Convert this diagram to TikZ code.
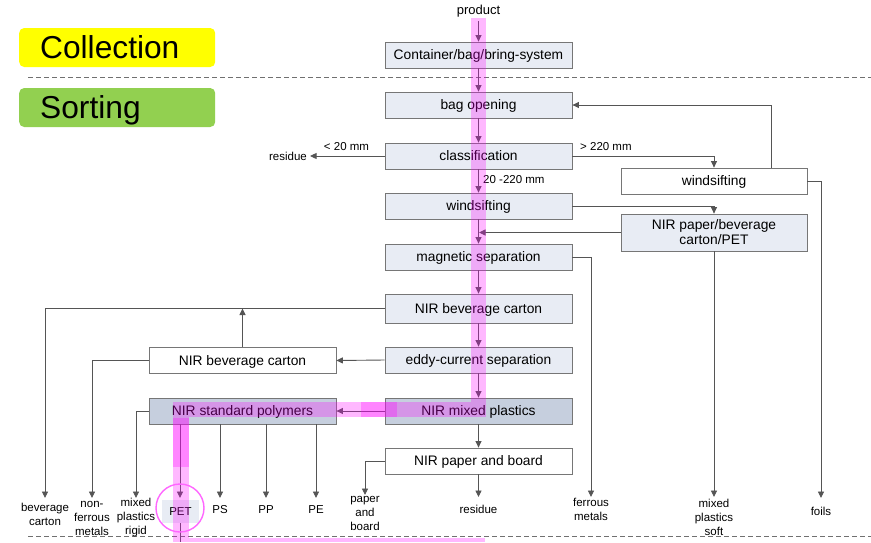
\documentclass[tikz,border=0pt]{standalone}
\usepackage{fontspec}
\setmainfont{Liberation Sans}
\usetikzlibrary{arrows.meta}
\definecolor{linec}{HTML}{555555}
\definecolor{boxline}{HTML}{767676}
\definecolor{boxfill}{HTML}{E8ECF4}
\definecolor{boxdark}{HTML}{C6CFDE}
\definecolor{collcol}{HTML}{FFFF00}
\definecolor{sortcol}{HTML}{92D050}
\definecolor{hl}{HTML}{FF00FF}
\definecolor{dashc}{HTML}{707070}
\begin{document}
\begin{tikzpicture}[x=1pt,y=-1pt,
  box/.style={draw=boxline, line width=0.8pt, fill=boxfill, minimum width=187pt, minimum height=26pt, inner sep=0pt, font=\fontsize{13.8}{15}\selectfont, align=center},
  wbox/.style={box, fill=white},
  dbox/.style={box, fill=boxdark},
  one/.style={text height=9.9pt, text depth=0pt},
  arr/.style={draw=linec, line width=0.9pt, -{Triangle[length=6.5pt,width=6pt]}},
  ln/.style={draw=linec, line width=0.9pt},
  lbl/.style={inner sep=0pt, font=\fontsize{11.5}{14}\selectfont, align=center},
  phase/.style={rounded corners=5pt, minimum width=196pt, minimum height=39pt, text width=154pt, inner xsep=21pt, inner ysep=0pt, align=left, font=\fontsize{31.7}{34}\selectfont, text height=22.7pt, text depth=0pt, anchor=west},
  sep/.style={draw=dashc, line width=0.7pt, dash pattern=on 5pt off 3pt},
  hlband/.style={fill=hl, opacity=0.28}
]
\useasboundingbox (0,0) rectangle (871,542);

% phase labels
\node[phase, fill=collcol] (coll) at (19,47.5) {Collection};
\node[phase, fill=sortcol] (sort) at (19,107.5) {Sorting};
\draw[sep] (28,77) -- (871,77);
\draw[sep] (28,536) -- (871,536);

% main column
\node[lbl, font=\fontsize{13}{15}\selectfont] (product) at (478.5,11) {product};
\node[box,one] (cont) at (478.5,55) {Container/bag/bring-system};
\node[box,one] (bag) at (478.5,105) {bag opening};
\node[box,one] (cls) at (478.5,156) {classification};
\node[box,one] (ws) at (478.5,206) {windsifting};
\node[box,one] (mag) at (478.5,257) {magnetic separation};
\node[box,one, minimum height=29pt] (nbc) at (478.5,308.5) {NIR beverage carton};
\node[box,one] (eddy) at (478.5,360) {eddy-current separation};
\node[dbox,one] (nmp) at (478.5,411) {NIR mixed plastics};
\node[wbox,one] (npb) at (478.5,461) {NIR paper and board};

% right column
\node[wbox,one, minimum width=186pt] (ws2) at (714,181) {windsifting};
\node[box, minimum width=186pt, minimum height=37pt] (npp) at (714,232.5) {NIR paper/beverage\\carton/PET};

% left column
\node[wbox,one] (nbc2) at (242.5,360.5) {NIR beverage carton};
\node[dbox,one] (nsp) at (242.5,411) {NIR standard polymers};

% small labels
\node[lbl] (res1) at (288,156) {residue};
\node[lbl] (lt20) at (346.5,147) {< 20 mm};
\node[lbl, anchor=west] (gt220) at (580,147) {> 220 mm};
\node[lbl, anchor=west] (mid) at (483,180) {20 -220 mm};

% outputs
\node[lbl] (bev) at (45,514) {beverage\\carton};
\node[lbl] (nonf) at (92,518) {non-\\ferrous\\metals};
\node[lbl] (rig) at (136,518) {mixed\\plastics\\rigid};
\node[lbl, fill=boxfill, minimum width=37pt, minimum height=23pt] (pet) at (180.5,511.5) {PET};
\node[lbl] (ps) at (220,510) {PS};
\node[lbl] (pp) at (266,510) {PP};
\node[lbl] (pe) at (316,510) {PE};
\node[lbl] (pab) at (365,513.5) {paper\\and\\board};
\node[lbl] (res2) at (478.5,509) {residue};
\node[lbl] (fer) at (591,509) {ferrous\\metals};
\node[lbl] (soft) at (714,517) {mixed\\plastics\\soft};
\node[lbl] (foils) at (821,511) {foils};

\coordinate (bevT) at (45,498);
\coordinate (nonT) at (92,498);
\coordinate (rigT) at (136,498);
\coordinate (petT) at (180,498);
\coordinate (psT) at (220,498);
\coordinate (ppT) at (266,498);
\coordinate (peT) at (316,498);
\coordinate (pabT) at (365,495);
\coordinate (res2T) at (478.5,497);
\coordinate (ferT) at (591,497);
\coordinate (softT) at (714,497);
\coordinate (foilsT) at (821,498);

% connectors main column
\draw[arr, shorten <=4pt] (product) -- (cont);
\draw[arr] (cont) -- (bag);
\draw[arr] (bag) -- (cls);
\draw[arr] (cls) -- (ws);
\draw[arr] (ws) -- (mag);
\draw[arr] (mag) -- (nbc);
\draw[arr] (nbc) -- (eddy);
\draw[arr] (eddy) -- (nmp);
\draw[arr] (nmp) -- (npb);
\draw[arr] (npb) -- (res2T);

\draw[arr, shorten >=3pt] (cls.west) -- (res1.east);
\draw[arr] (cls.east) -| (ws2.north);
\draw[arr] ([xshift=57pt]ws2.north) |- (bag.east);
\draw[arr] (ws2.east) -| (foilsT);
\draw[arr] (ws.east) -| (npp.north);
\draw[arr, shorten >=0.5pt] (npp.west) -- (npp.west -| ws.south);
\draw[arr] (npp.south) -- (softT);
\draw[arr] (mag.east) -| (ferT);
\draw[arr] (nbc.west) -| (bevT);
\draw[arr] (nbc2.north) -- (nbc2.north |- nbc.west);
\draw[arr] (eddy.west) -- (nbc2.east);
\draw[arr] (nbc2.west) -| (nonT);
\draw[arr] (nmp.west) -- (nsp.east);
\draw[arr] (nsp.west) -| (rigT);
\draw[arr] (petT |- nsp.south) -- (petT);
\draw[arr] (psT |- nsp.south) -- (psT);
\draw[arr] (ppT |- nsp.south) -- (ppT);
\draw[arr] (peT |- nsp.south) -- (peT);
\draw[arr] (npb.west) -| (pabT);
\draw[ln] (petT |- pet.south) -- ++(0,19);

% highlight
\fill[hlband] (471,18) rectangle (486,402);
\fill[hlband] (173,402) rectangle (486,417);
\fill[hlband] (361,402) rectangle (397,417);
\fill[hlband] (173,417) rectangle (189,542);
\fill[hlband] (173,418) rectangle (189,467);
\fill[hlband] (189,538) rectangle (485,542);
\draw[draw=hl!60, line width=1.4pt] (180,508) circle (24pt);
\end{tikzpicture}
\end{document}
